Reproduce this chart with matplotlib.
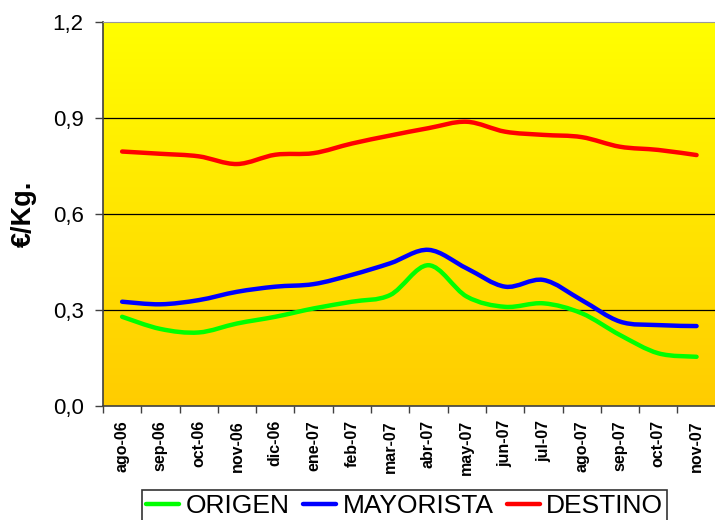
import numpy as np
import matplotlib.pyplot as plt
from matplotlib.path import Path
from matplotlib.patches import PathPatch
from matplotlib.lines import Line2D
from matplotlib.colors import LinearSegmentedColormap

plt.rcParams['font.family'] = ['Liberation Sans', 'DejaVu Sans']

# Monthly prices (EUR/kg)
months = ['ago-06', 'sep-06', 'oct-06', 'nov-06', 'dic-06', 'ene-07', 'feb-07', 'mar-07',
          'abr-07', 'may-07', 'jun-07', 'jul-07', 'ago-07', 'sep-07', 'oct-07', 'nov-07']
origen = [0.279, 0.241, 0.230, 0.258, 0.279, 0.305, 0.326, 0.347,
          0.440, 0.342, 0.310, 0.321, 0.290, 0.222, 0.165, 0.154]
mayorista = [0.326, 0.318, 0.331, 0.357, 0.373, 0.381, 0.410, 0.446,
             0.488, 0.430, 0.373, 0.394, 0.331, 0.264, 0.253, 0.250]
destino = [0.795, 0.788, 0.780, 0.756, 0.785, 0.790, 0.820, 0.845,
           0.868, 0.888, 0.857, 0.847, 0.840, 0.810, 0.800, 0.784]

series = [('ORIGEN', origen, '#00ff00'),
          ('MAYORISTA', mayorista, '#0000ff'),
          ('DESTINO', destino, '#ff0000')]


def smooth_path(x, y):
    # spreadsheet-style smoothed line: cubic Bezier through every point
    pts = np.column_stack([x, y]).astype(float)
    ext = np.vstack([pts[0], pts, pts[-1]])
    verts = [pts[0]]
    codes = [Path.MOVETO]
    for i in range(1, len(ext) - 2):
        p0, p1, p2, p3 = ext[i - 1], ext[i], ext[i + 1], ext[i + 2]
        verts += [p1 + (p2 - p0) / 6, p2 - (p3 - p1) / 6, p2]
        codes += [Path.CURVE4] * 3
    return Path(verts, codes)


fig = plt.figure(figsize=(7.15, 5.2), dpi=100)
ax = fig.add_axes([0.144, 0.219, 0.857, 0.739])

x = np.arange(len(months))
ax.set_xlim(-0.5, len(months) - 0.5)
ax.set_ylim(0, 1.2)

# yellow-to-orange background gradient
grad = np.linspace(0, 1, 256).reshape(-1, 1)
cmap = LinearSegmentedColormap.from_list('bg', ['#ffcc00', '#ffff00'])
ax.imshow(grad, cmap=cmap, aspect='auto', origin='lower',
          extent=[-0.5, len(months) - 0.5, 0, 1.2], zorder=0)

for yv in [0.3, 0.6, 0.9]:
    ax.axhline(yv, color='black', lw=0.9, zorder=1)

handles = []
for name, vals, col in series:
    ax.add_patch(PathPatch(smooth_path(x, vals), fill=False, edgecolor=col,
                           lw=3.2, capstyle='round', joinstyle='round', zorder=3))
    handles.append(Line2D([], [], color=col, lw=3.2, solid_capstyle='round'))

ax.set_yticks([0.0, 0.3, 0.6, 0.9, 1.2])
ax.set_yticklabels(['0,0', '0,3', '0,6', '0,9', '1,2'], fontsize=16)
ax.tick_params(axis='y', length=6, width=1, color='#404040', pad=8)

ax.set_xticks(x)
ax.set_xticklabels(months, rotation=90, fontsize=11.5, fontweight='bold', va='top')
ax.tick_params(axis='x', which='major', length=0, pad=10)
ax.set_xticks(np.arange(-0.5, len(months), 1), minor=True)
ax.tick_params(axis='x', which='minor', length=5, width=1, color='#404040')

ax.set_ylabel('€/Kg.', fontsize=19.5, fontweight='bold', labelpad=11)

for side in ['left', 'bottom']:
    ax.spines[side].set_color('#404040')
    ax.spines[side].set_linewidth(1.2)
ax.spines['top'].set_color('#999999')
ax.spines['right'].set_visible(False)

leg = fig.legend(handles, [s[0] for s in series], ncol=3, loc='upper center',
                 bbox_to_anchor=(0.566, 0.058), borderaxespad=0, fontsize=19,
                 frameon=True, fancybox=False, edgecolor='black', handlelength=1.25,
                 handletextpad=0.25, columnspacing=0.5, borderpad=0.15)
leg.get_frame().set_linewidth(1.2)

fig.savefig('out.png', dpi=100)
